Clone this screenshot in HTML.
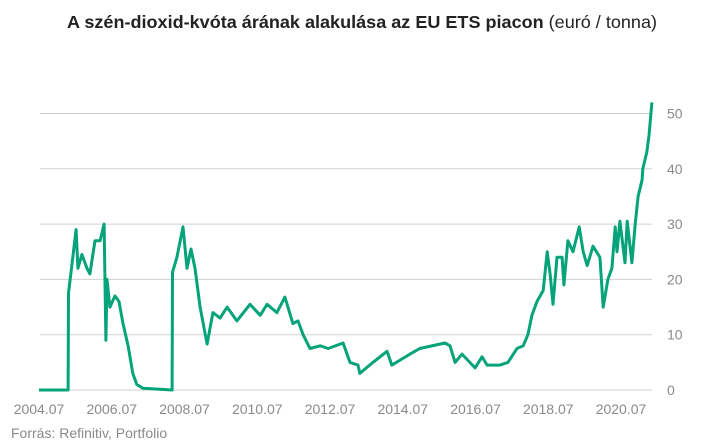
<!DOCTYPE html>
<html><head><meta charset="utf-8">
<style>
html,body{margin:0;padding:0;background:#fff;}
svg{display:block;font-family:"Liberation Sans",sans-serif;}
</style></head>
<body>
<svg id="chart" width="720" height="445" viewBox="0 0 720 445" xmlns="http://www.w3.org/2000/svg">
<text x="67" y="28" font-size="17.5" textLength="590" lengthAdjust="spacingAndGlyphs" fill="#222"><tspan font-weight="bold">A szén-dioxid-kvóta árának alakulása az EU ETS piacon</tspan><tspan> (euró / tonna)</tspan></text>
<g id="grid"></g>
<g id="yticks"></g>
<g id="xticks"></g>
<path id="line" fill="none" stroke="#05a37a" stroke-width="3" stroke-linejoin="round"/>
<text x="11" y="438" font-size="14" fill="#8a8a8a">Forrás: Refinitiv, Portfolio</text>
</svg>
<script>
const dates=[2004.5,2005.30,2005.31,2005.52,2005.57,2005.68,2005.82,2005.90,2006.04,2006.18,2006.29,2006.34,2006.37,2006.45,2006.59,2006.70,2006.81,2006.95,2007.08,2007.19,2007.36,2008.16,2008.17,2008.29,2008.46,2008.57,2008.68,2008.79,2008.93,2009.12,2009.28,2009.48,2009.67,2009.94,2010.30,2010.58,2010.77,2011.04,2011.26,2011.48,2011.62,2011.76,2011.95,2012.23,2012.45,2012.86,2013.05,2013.27,2013.32,2013.68,2014.07,2014.20,2014.70,2014.97,2015.66,2015.80,2015.94,2016.13,2016.49,2016.68,2016.82,2017.17,2017.39,2017.64,2017.81,2017.94,2018.05,2018.19,2018.36,2018.47,2018.55,2018.63,2018.74,2018.88,2018.93,2019.04,2019.18,2019.35,2019.46,2019.57,2019.73,2019.92,2020.01,2020.14,2020.25,2020.34,2020.39,2020.47,2020.61,2020.67,2020.80,2020.89,2020.97,2021.08,2021.10,2021.21,2021.27,2021.35];
const values=[0,0,17.5,29,22,24.5,22,21,27,27,30,9,20,15,17,16,12,8,3,1,0.3,0,21.3,24,29.5,22,25.5,22,15,8.3,14,13,15,12.5,15.5,13.5,15.5,14,16.8,12,12.5,10,7.5,8,7.5,8.5,5,4.5,3,5,7,4.5,6.5,7.5,8.5,8,5,6.5,4,6,4.5,4.5,5,7.5,8,10,13.5,16,18,25,21,15.5,24,24,19,27,25,29.5,25,22.5,26,24,15,20,22,29.5,25,30.5,23,30.5,23,30,35,38,40,43,46,52];
const yTickValues=[0,10,20,30,40,50];
const xTickYears=[2004.5,2006.5,2008.5,2010.5,2012.5,2014.5,2016.5,2018.5,2020.5];
const xTickLabels=["2004.07","2006.07","2008.07","2010.07","2012.07","2014.07","2016.07","2018.07","2020.07"];

const NS="http://www.w3.org/2000/svg";
const xs=y=>39+(y-2004.5)*36.375;
const ys=v=>390-v*5.53;
const grid=document.getElementById('grid'),yt=document.getElementById('yticks'),xt=document.getElementById('xticks');
yTickValues.forEach(v=>{
  const l=document.createElementNS(NS,'line');
  
  
  l.setAttribute('x1',40);l.setAttribute('x2',652);l.setAttribute('y1',ys(v));l.setAttribute('y2',ys(v));
  l.setAttribute('stroke','#d0d0d0');l.setAttribute('stroke-width','1');
  grid.appendChild(l);
  const t=document.createElementNS(NS,'text');
  
  
  t.setAttribute('x',667);t.setAttribute('y',ys(v)+5);t.setAttribute('font-size','14');t.setAttribute('fill','#8a8a8a');
  t.textContent=v;yt.appendChild(t);
});
xTickYears.forEach((y,i)=>{
  const t=document.createElementNS(NS,'text');
  
  
  t.setAttribute('x',xs(y));t.setAttribute('y',414);t.setAttribute('font-size','14');t.setAttribute('fill','#8a8a8a');t.setAttribute('text-anchor','middle');
  t.textContent=xTickLabels[i];xt.appendChild(t);
});
document.getElementById('line').setAttribute('d',dates.map((d,i)=>(i?'L':'M')+xs(d).toFixed(1)+' '+ys(values[i]).toFixed(1)).join(' '));
</script>
</body></html>
